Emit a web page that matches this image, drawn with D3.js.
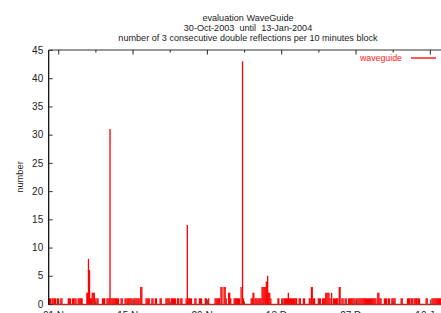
<!DOCTYPE html>
<html><head><meta charset="utf-8">
<script src="https://cdn.jsdelivr.net/npm/d3@7"></script>
<style>
html,body{margin:0;padding:0;background:#fff;overflow:hidden;}
svg{display:block;}
text{font-family:"Liberation Sans",Arial,sans-serif;white-space:pre;}
</style></head>
<body>
<svg id="c" width="441" height="313"></svg>
<script>
const titleLines = ["evaluation WaveGuide", "30-Oct-2003  until  13-Jan-2004", "number of 3 consecutive double reflections per 10 minutes block"];
const yLabel = "number";
const seriesName = "waveguide";
const yTicks = [0,5,10,15,20,25,30,35,40,45];
const xTickDates = ["2003-11-01","2003-11-08","2003-11-15","2003-11-22","2003-11-29","2003-12-06","2003-12-13","2003-12-20","2003-12-27","2004-01-03","2004-01-10"];
const xTickLabels = ["01 Nov","","15 Nov","","29 Nov","","13 Dec","","27 Dec","","10 Jan"];
// days since 30-Oct-2003 00:00 and counts per 10 minute block
const dayOffsets = [
0.25,0.45,0.75,0.95,1.2,1.4,1.75,1.95,2.4,2.6,3.8,4.0,4.2,4.6,4.8,5.05,5.25,5.65,5.85,6.05,6.25,6.4,
7.3,7.45,7.6,7.8,7.95,8.15,8.3,8.5,8.7,8.85,9.2,9.4,10.25,10.45,10.65,11.1,11.3,11.5,11.66,
11.85,12.05,12.25,12.45,12.65,12.85,13.05,13.25,13.75,13.95,14.5,14.7,15.0,15.2,15.4,15.6,15.8,
16.15,16.35,16.55,16.75,16.95,17.15,17.45,17.65,
18.45,18.65,18.85,19.05,19.55,19.75,20.2,20.4,21.1,21.3,22.2,22.4,22.6,22.8,23.2,23.4,
23.6,23.8,24.0,24.4,24.6,25.0,25.2,26.0,26.22,26.4,26.6,26.8,27.0,27.65,27.85,28.5,28.7,28.9,
29.6,29.8,30.25,31.45,31.65,31.85,32.05,32.25,32.55,32.75,33.15,33.35,33.55,34.0,34.2,34.4,
35.05,35.25,35.45,35.65,35.85,36.05,36.35,36.62,36.8,
38.25,38.45,38.6,38.75,39.0,39.2,39.5,39.7,39.9,40.1,40.3,40.5,40.7,40.9,41.1,41.35,41.55,41.75,41.95,
43.3,43.45,44.05,44.25,44.5,44.7,44.9,45.1,45.25,45.45,45.65,45.85,46.05,46.25,46.45,46.65,46.8,
47.3,47.5,48.1,48.3,49.2,49.35,49.6,49.75,50.0,50.2,50.9,51.1,51.3,51.7,51.9,52.1,52.3,52.5,52.7,52.9,
53.1,53.4,53.75,53.95,54.15,54.35,54.55,54.85,55.0,55.35,55.55,55.95,56.15,
56.6,56.8,57.0,57.2,57.4,57.6,57.8,
58.15,58.35,58.55,58.75,58.95,59.15,59.35,59.55,59.75,59.95,60.15,60.35,60.55,60.75,60.95,61.15,61.35,61.55,61.75,
62.1,62.3,62.5,62.7,63.35,63.55,63.75,64.1,64.3,64.75,64.95,65.15,65.35,66.5,66.7,
67.7,67.9,68.1,68.4,68.6,68.95,69.15,69.35,69.5,69.75,69.95,71.2,71.4,72.3,72.5,72.7,72.9,73.1,73.3,73.5,73.7,73.9
];
const counts = [
1,1,1,1,1,1,1,1,1,1,1,1,1,1,1,1,1,1,1,1,1,1,
2,2,8,6,1,1,2,2,2,1,1,1,1,1,1,1,1,1,31,
1,1,1,1,1,1,1,1,1,1,1,1,1,1,1,1,1,
1,1,1,1,1,1,3,3,
1,1,1,1,1,1,1,1,1,1,1,1,1,1,1,1,
1,1,1,1,1,1,1,1,14,1,1,1,1,1,1,1,1,1,
1,1,1,1,1,1,1,1,3,3,3,3,1,2,2,1,
1,1,1,1,1,1,3,43,1,
1,1,2,2,1,1,1,1,1,1,3,3,3,3,4,5,2,2,1,
1,1,1,1,1,1,1,1,2,1,1,1,1,1,1,1,1,
1,1,1,1,1,1,3,3,1,1,1,1,1,1,1,1,2,2,2,2,
1,2,1,1,1,1,1,3,3,1,1,1,1,
1,1,1,1,1,1,1,
1,1,1,1,1,1,1,1,1,1,1,1,1,1,1,1,1,1,1,
2,2,1,1,1,1,1,1,1,1,1,1,1,1,1,
1,1,1,1,1,1,1,1,1,1,1,1,1,1,1,1,1,1,1,1,1,1
];
const seriesStart = Date.UTC(2003,9,30);
const DAY = 864e5;

const svg = d3.select("#c");
const plotL = 48.7, plotT = 50, plotB = 304, pxPerDay = 5.309;
const xStart = new Date(seriesStart + 0.11*DAY), xEnd = new Date(seriesStart + 76*DAY);
const x = d3.scaleUtc().domain([xStart, xEnd]).range([plotL, plotL + (76-0.11)*pxPerDay]);
const y = d3.scaleLinear().domain([0,45]).range([plotB, plotT]);

// title
svg.append("g").selectAll("text").data(titleLines).join("text")
  .attr("x", 248).attr("y", (d,i)=>21 + i*10.2).attr("text-anchor","middle")
  .attr("xml:space","preserve")
  .attr("font-size", 9.1).attr("fill", "#222").text(d=>d);

// y axis label
svg.append("text").attr("transform","translate(22.5,177) rotate(-90)")
  .attr("text-anchor","middle").attr("font-size",9.3).attr("fill","#222").text(yLabel);

// impulses
const n = Math.min(dayOffsets.length, counts.length);
const data = d3.range(n).map(i=>({t:new Date(seriesStart + dayOffsets[i]*DAY), v:counts[i]}));
svg.append("g").selectAll("line").data(data).join("line")
  .attr("x1", d=>x(d.t)).attr("x2", d=>x(d.t))
  .attr("y1", y(0)).attr("y2", d=>y(d.v))
  .attr("stroke", "#ff0000").attr("stroke-width", 1.3);

// baseline
svg.append("line").attr("x1", plotL).attr("x2", 441).attr("y1", y(0)+0.5).attr("y2", y(0)+0.5)
  .attr("stroke", "#a8302c").attr("stroke-width", 1.5);

// frame
svg.append("line").attr("x1", plotL).attr("x2", 441).attr("y1", plotT).attr("y2", plotT)
  .attr("stroke", "#777").attr("stroke-width", 1.6);
svg.append("line").attr("x1", plotL).attr("x2", plotL).attr("y1", plotT).attr("y2", plotB+1)
  .attr("stroke", "#000").attr("stroke-width", 1.2);

// y ticks
const yAxis = d3.axisLeft(y).tickValues(yTicks).tickSize(-4).tickPadding(5.5);
const ga = svg.append("g").attr("transform", `translate(${plotL},0)`).call(yAxis);
ga.select(".domain").remove();
ga.selectAll(".tick line").attr("stroke","#333");
ga.selectAll(".tick text").attr("font-size",10).attr("fill","#222").attr("font-family","Liberation Sans, Arial, sans-serif");

// x ticks top (inward) and bottom
const xDates = xTickDates.map(s=>new Date(s+"T00:00:00Z"));
const xt = svg.append("g");
xt.selectAll("line.t").data(xDates).join("line").attr("class","t")
  .attr("x1", d=>x(d)).attr("x2", d=>x(d)).attr("y1", plotT)
  .attr("y2", (d,i)=> plotT + (xTickLabels[i] ? 4.5 : 2.5)).attr("stroke","#222").attr("stroke-width",1);
xt.selectAll("line.b").data(xDates).join("line").attr("class","b")
  .attr("x1", d=>x(d)).attr("x2", d=>x(d)).attr("y1", plotB)
  .attr("y2", (d,i)=> plotB - (xTickLabels[i] ? 4.5 : 2.5)).attr("stroke","#444").attr("stroke-width",1);
const labelled = xDates.map((d,i)=>({d, s:xTickLabels[i]})).filter(o=>o.s);
xt.selectAll("text").data(labelled).join("text")
  .attr("x", o=>x(o.d)).attr("y", 319).attr("text-anchor","middle")
  .attr("font-size",10).attr("fill","#222").text(o=>o.s);

// legend
svg.append("text").attr("x", 402).attr("y", 61.3).attr("text-anchor","end")
  .attr("font-size",8.8).attr("fill","#ff2020").text(seriesName);
svg.append("line").attr("x1", 411).attr("x2", 436).attr("y1", 58).attr("y2", 58)
  .attr("stroke","#ff0000").attr("stroke-width",1.3);
</script>
</body></html>
